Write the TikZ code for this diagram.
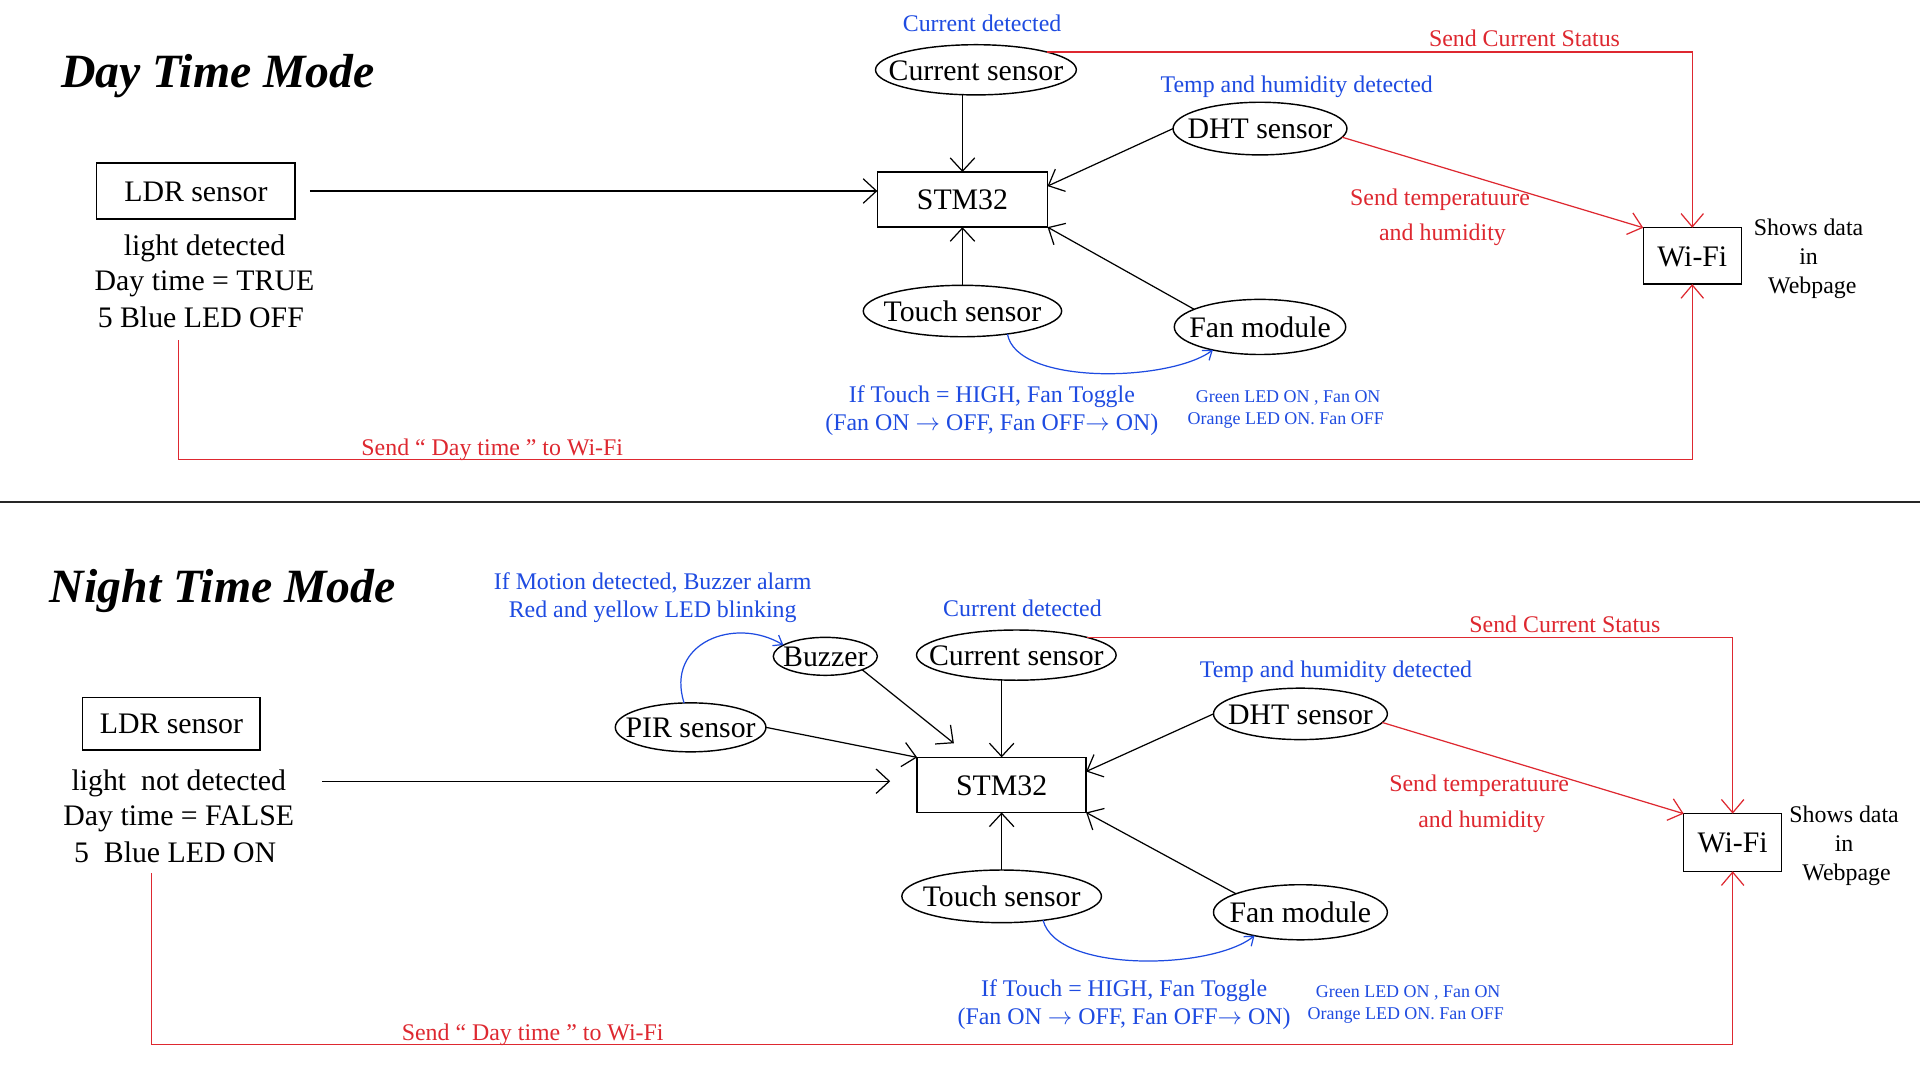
\documentclass[tikz,border=0pt]{standalone}
\usepackage{fontspec}
\setmainfont{Liberation Serif}
\usetikzlibrary{shapes.geometric,arrows.meta,calc}
\definecolor{tblue}{RGB}{30,75,225}
\definecolor{tred}{RGB}{222,40,48}
\newcommand\fsmain{\fontsize{14.6}{17}\selectfont}
\newcommand\fslbl{\fontsize{11.7}{14}\selectfont}
\newcommand\fssmall{\fontsize{8.8}{10.5}\selectfont}
\newcommand\fstitle{\fontsize{23.4}{28}\selectfont\bfseries\itshape}
\newcommand\arw{$\rightarrow$}
\begin{document}
\begin{tikzpicture}[x=0.6pt,y=-0.6pt,
  every node/.style={inner sep=0pt, outer sep=0pt, text height=0.85em, text depth=0.05em},
  box/.style={draw, line width=0.7pt, rectangle, font=\fsmain, text height=1em, text depth=0pt},
  ell/.style={draw, line width=0.7pt, ellipse, font=\fsmain},
  txt/.style={font=\fsmain, text height=1em, text depth=0pt},
  lbl/.style={font=\fslbl},
  lblb/.style={font=\fslbl, text=tblue},
  lblr/.style={font=\fslbl, text=tred},
  smb/.style={font=\fssmall, text=tblue},
  ttl/.style={font=\fstitle, text height=1em, text depth=0pt},
  arr/.style={draw=black, line width=0.6pt, -{Straight Barb[length=6.5pt,width=12pt]}},
  rarr/.style={draw=tred, line width=0.6pt, -{Straight Barb[length=6.5pt,width=11pt]}},
  blarr/.style={draw=tblue, line width=0.6pt, -{Straight Barb[length=4pt,width=6pt]}}
]
\fill[white] (0,0) rectangle (1568,882);
\useasboundingbox (0,0) rectangle (1568,882);

% ---------------- Day time mode ----------------
\node[ttl] (t1) at (178,63) {Day Time Mode};
\node[box, minimum width=97.2pt, minimum height=27.6pt] (ldr1) at (160,156) {LDR sensor};
\node[txt] (l1a) at (167,200) {light detected};
\node[txt] (l1b) at (167,229) {Day time = TRUE};
\node[txt] (l1c) at (164,259) {5 Blue LED OFF};
\node[box, minimum width=83.4pt, minimum height=27pt] (stm1) at (786,163) {STM32};
\node[ell, minimum width=98.4pt, minimum height=24.6pt, label={[txt]center:Current sensor}] (cur1) at (797,57) {};
\node[lblb] (cd1) at (802,19) {Current detected};
\node[ell, minimum width=85.2pt, minimum height=25.8pt, label={[txt]center:DHT sensor}] (dht1) at (1029,105) {};
\node[lblb] (td1) at (1059,69) {Temp and humidity detected};
\node[ell, minimum width=97.2pt, minimum height=25.2pt, label={[txt]center:Touch sensor}] (tch1) at (786,254) {};
\node[ell, minimum width=84pt, minimum height=27pt, label={[txt]center:Fan module}] (fan1) at (1029,267) {};
\node[lblb] (it1) at (810,322) {If Touch = HIGH, Fan Toggle};
\node[lblb] (fo1) at (810,345) {(Fan ON \arw{} OFF, Fan OFF\arw{} ON)};
\node[smb] (g1) at (1052,322) {Green LED ON , Fan ON};
\node[smb] (o1) at (1050,340) {Orange LED ON. Fan OFF};
\node[box, minimum width=48pt, minimum height=27.6pt] (wifi1) at (1382,209) {Wi-Fi};
\node[lbl] (sd1) at (1477,186) {Shows data};
\node[lbl] (in1) at (1477,209) {in};
\node[lbl] (wp1) at (1480,233) {Webpage};
\node[lblr] (sc1) at (1245,31) {Send Current Status};
\node[lblr] (st1) at (1176,161) {Send temperatuure};
\node[lblr] (ah1) at (1178,190) {and humidity};
\node[lblr] (sdt1) at (402,365) {Send “ Day time ” to Wi-Fi};

\draw[arr, shorten <=7.2pt] (ldr1.east) -- (stm1.west |- ldr1.east);
\draw[arr] (stm1.north |- cur1.south) -- (stm1.north);
\draw[arr] (dht1.west) -- (stm1.9);
\draw[arr] (tch1.north) -- (stm1.south);
\draw[arr] (fan1.165) -- (stm1.south east);
\draw[blarr] (tch1.-27) .. controls (830,315) and (955,312) .. (fan1.206);
\draw[rarr] (cur1.14) -| (wifi1.north);
\draw[rarr] (dht1.-6) -- (wifi1.north west);
\coordinate (d1a) at (146,278);
\coordinate (d1b) at (146,375);
\draw[rarr] (d1a) -- (d1b) -| (wifi1.south);

% divider
\coordinate (dl) at (0,410);
\coordinate (dr) at (1568,410);
\draw[line width=0.8pt, black!85] (dl) -- (dr);

% ---------------- Night time mode ----------------
\node[ttl] (t2) at (182,484) {Night Time Mode};
\node[lblb] (im2) at (533,475) {If Motion detected, Buzzer alarm};
\node[lblb] (ry2) at (533,498) {Red and yellow LED blinking};
\node[ell, minimum width=51pt, minimum height=18.6pt, label={[txt]center:Buzzer}] (buz2) at (674,536) {};
\node[ell, minimum width=73.8pt, minimum height=24pt, label={[txt]center:PIR sensor}] (pir2) at (564,594) {};
\node[box, minimum width=87pt, minimum height=25.8pt] (ldr2) at (140,591) {LDR sensor};
\node[txt] (l2a) at (146,637) {light~ not detected};
\node[txt] (l2b) at (146,666) {Day time = FALSE};
\node[txt] (l2c) at (143,696) {5~ Blue LED ON};
\node[box, minimum width=82.8pt, minimum height=27pt] (stm2) at (818,641) {STM32};
\node[ell, minimum width=97.8pt, minimum height=24.6pt, label={[txt]center:Current sensor}] (cur2) at (830,535) {};
\node[lblb] (cd2) at (835,497) {Current detected};
\node[ell, minimum width=85.2pt, minimum height=25.2pt, label={[txt]center:DHT sensor}] (dht2) at (1062,583) {};
\node[lblb] (td2) at (1091,547) {Temp and humidity detected};
\node[ell, minimum width=97.8pt, minimum height=25.8pt, label={[txt]center:Touch sensor}] (tch2) at (818,732) {};
\node[ell, minimum width=85.2pt, minimum height=27pt, label={[txt]center:Fan module}] (fan2) at (1062,745) {};
\node[lblb] (it2) at (918,807) {If Touch = HIGH, Fan Toggle};
\node[lblb] (fo2) at (918,830) {(Fan ON \arw{} OFF, Fan OFF\arw{} ON)};
\node[smb] (g2) at (1150,808) {Green LED ON , Fan ON};
\node[smb] (o2) at (1148,826) {Orange LED ON. Fan OFF};
\node[box, minimum width=48pt, minimum height=28.2pt] (wifi2) at (1415,688) {Wi-Fi};
\node[lbl] (sd2) at (1506,665) {Shows data};
\node[lbl] (in2) at (1506,689) {in};
\node[lbl] (wp2) at (1508,712) {Webpage};
\node[lblr] (sc2) at (1278,510) {Send Current Status};
\node[lblr] (st2) at (1208,640) {Send temperatuure};
\node[lblr] (ah2) at (1210,669) {and humidity};
\node[lblr] (sdt2) at (435,843) {Send “ Day time ” to Wi-Fi};

\coordinate (a2) at (263,638);
\draw[arr, shorten >=13.2pt] (a2) -- (stm2.west |- a2);
\coordinate (b2e) at (779,607);
\draw[arr] (buz2.-20) -- (b2e);
\draw[arr] (pir2.east) -- (stm2.north west);
\draw[arr] (stm2.north |- cur2.south) -- (stm2.north);
\draw[arr] (dht2.west) -- (stm2.9);
\draw[arr] (tch2.north) -- (stm2.south);
\draw[arr] (fan2.164) -- (stm2.south east);
\draw[blarr] (tch2.-30) .. controls (863,795) and (990,792) .. (fan2.207);
\draw[blarr] (pir2.105) .. controls (543,525) and (600,503) .. (buz2.165);
\draw[rarr] (cur2.14) -| (wifi2.north);
\draw[rarr] (dht2.-6) -- (wifi2.north west);
\coordinate (d2a) at (124,713);
\coordinate (d2b) at (124,853);
\draw[rarr] (d2a) -- (d2b) -| (wifi2.south);
\end{tikzpicture}
\end{document}
